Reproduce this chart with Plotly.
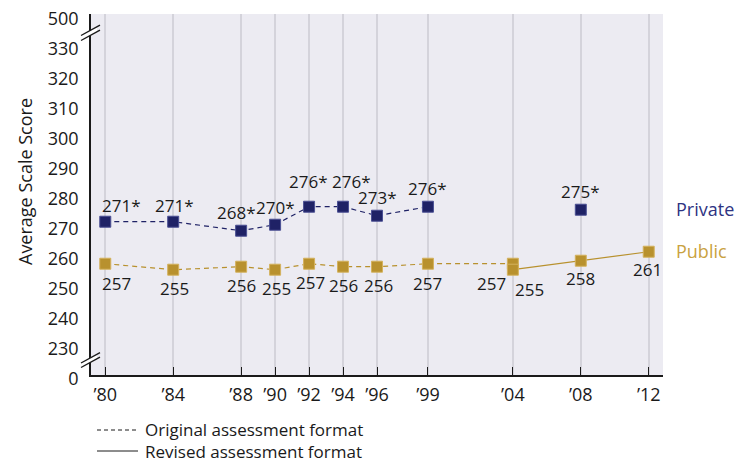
import plotly.graph_objects as go

# ---------------- data ----------------
years = [1980, 1984, 1988, 1990, 1992, 1994, 1996, 1999, 2004, 2008, 2012]
year_labels = ["\u201980", "\u201984", "\u201988", "\u201990", "\u201992", "\u201994",
               "\u201996", "\u201999", "\u201904", "\u201908", "\u201912"]

private_orig_years = [1980, 1984, 1988, 1990, 1992, 1994, 1996, 1999]
private_orig = [271, 271, 268, 270, 276, 276, 273, 276]
private_rev_years = [2008]
private_rev = [275]

public_orig_years = [1980, 1984, 1988, 1990, 1992, 1994, 1996, 1999, 2004]
public_orig = [257, 255, 256, 255, 257, 256, 256, 257, 257]
public_rev_years = [2004, 2008, 2012]
public_rev = [255, 258, 261]

# significance flags for private labels
private_orig_sig = [True] * 8
private_rev_sig = [True]

ytick_vals = [220, 230, 240, 250, 260, 270, 280, 290, 300, 310, 320, 330, 340]
ytick_text = ["0", "230", "240", "250", "260", "270", "280", "290", "300", "310", "320", "330", "500"]

legend_lines = ["Original assessment format", "Revised assessment format"]

# ---------------- styling ----------------
NAVY = "#1f2266"
NAVY_EDGE = "#4b5094"
GOLD = "#b8912e"
GOLD_EDGE = "#d4b25e"
BG = "#ecebf2"
GRID = "#d4d3db"
FONT = "Open Sans"
INK = "#1a1a1a"

# page offset (body margin) compensation
OFF = 8
W, H = 745, 461
# target plot area in screen pixels
SX0, SX1, SY0, SY1 = 91, 663, 14, 375
L, T = SX0 - OFF, SY0 - OFF
R = W - (SX1 - OFF)
B = H - (SY1 - OFF)
PW, PH = SX1 - SX0, SY1 - SY0

def px(x):
    return (x - SX0) / PW

def py(y):
    return (SY1 - y) / PH

fig = go.Figure()

def series(xs, ys, color, edge, dash, show_line=True):
    fig.add_trace(go.Scatter(
        x=xs, y=ys,
        mode="lines+markers" if show_line else "markers",
        line=dict(color=color, width=1.2, dash=dash),
        marker=dict(symbol="square", size=11, color=color, line=dict(color=edge, width=1)),
        hoverinfo="skip", showlegend=False,
    ))

series(public_orig_years, public_orig, GOLD, GOLD_EDGE, "5px,4px")
series(public_rev_years, public_rev, GOLD, GOLD_EDGE, "solid")
series(private_orig_years, private_orig, NAVY, NAVY_EDGE, "5px,4px")
series(private_rev_years, private_rev, NAVY, NAVY_EDGE, None, show_line=False)

annotations = []

# label offsets (pixels) for value labels
priv_orig_off = [(16, 16), (1, 16), (-5, 18), (0, 17), (-1, 25), (8, 25), (0, 18), (0, 18)]
priv_rev_off = [(0, 18)]
pub_orig_off = [(11, -20), (1, -19), (0, -19), (1, -19), (1, -19), (0, -19), (1, -19), (0, -20), (-21, -20)]
pub_rev_off = [(17, -20), (0, -18), (-1, -18)]

def add_labels(xs, ys, offs, star=None):
    for i, (xv, yv) in enumerate(zip(xs, ys)):
        txt = str(yv) + ("*" if star and star[i] else "")
        annotations.append(dict(
            x=xv, y=yv, xref="x", yref="y", text=txt, showarrow=False,
            xanchor="center", yanchor="middle",
            xshift=offs[i][0], yshift=offs[i][1],
            font=dict(family=FONT, size=17, color=INK),
        ))

add_labels(private_orig_years, private_orig, priv_orig_off, private_orig_sig)
add_labels(private_rev_years, private_rev, priv_rev_off, private_rev_sig)
add_labels(public_orig_years, public_orig, pub_orig_off)
add_labels(public_rev_years, public_rev, pub_rev_off)

# series names on the right
annotations.append(dict(x=px(674), y=py(209), xref="paper", yref="paper", text="Private",
                        showarrow=False, xanchor="left", yanchor="middle",
                        font=dict(family=FONT, size=18, color="#2e3382")))
annotations.append(dict(x=px(674), y=py(251), xref="paper", yref="paper", text="Public",
                        showarrow=False, xanchor="left", yanchor="middle",
                        font=dict(family=FONT, size=18, color="#c9a241")))

# y-axis title
annotations.append(dict(x=px(25), y=py(182), xref="paper", yref="paper",
                        text="Average Scale Score", textangle=-90, showarrow=False,
                        xanchor="center", yanchor="middle",
                        font=dict(family=FONT, size=18, color=INK)))

# legend text (two lines in one block)
annotations.append(dict(x=px(143), y=py(440), xref="paper", yref="paper",
                        text="<br>".join(legend_lines), showarrow=False,
                        xanchor="left", yanchor="middle", align="left",
                        font=dict(family=FONT, size=17, color=INK)))

shapes = []
# legend line samples
shapes.append(dict(type="line", xref="paper", yref="paper", x0=px(97), x1=px(138),
                   y0=py(430), y1=py(430), line=dict(color=INK, width=1, dash="4px,3px")))
shapes.append(dict(type="line", xref="paper", yref="paper", x0=px(97), x1=px(138),
                   y0=py(451), y1=py(451), line=dict(color=INK, width=1)))

# axis break marks
def brk(ya, yb):
    # ya, yb: screen y pixel where the two strokes cross the axis (x=91)
    s = 0.55
    def pt(x, y0):
        return px(x), py(y0 - s * (x - SX0))
    a0, a1 = pt(81, ya), pt(100, ya)
    b0, b1 = pt(81, yb), pt(100, yb)
    c0, c1 = pt(85, ya), pt(97, ya)
    d0, d1 = pt(85, yb), pt(97, yb)
    path = f"M {c0[0]},{c0[1]} L {c1[0]},{c1[1]} L {d1[0]},{d1[1]} L {d0[0]},{d0[1]} Z"
    shapes.append(dict(type="path", xref="paper", yref="paper", path=path,
                       fillcolor="white", line=dict(width=0), layer="above"))
    for p0, p1 in ((a0, a1), (b0, b1)):
        shapes.append(dict(type="line", xref="paper", yref="paper",
                           x0=p0[0], y0=p0[1], x1=p1[0], y1=p1[1],
                           line=dict(color=INK, width=1.4), layer="above"))

brk(30.0, 35.0)
brk(357.5, 362.0)

fig.update_layout(
    width=W, height=H,
    margin=dict(l=L, r=R, t=T, b=B, pad=0, autoexpand=False),
    paper_bgcolor="white", plot_bgcolor=BG,
    font=dict(family=FONT, size=18, color=INK),
    annotations=annotations, shapes=shapes,
    xaxis=dict(
        range=[1979.16, 2012.84], tickmode="array", tickvals=years, ticktext=year_labels,
        showgrid=True, gridcolor=GRID, gridwidth=1.5,
        ticks="inside", ticklen=8, tickcolor=INK, tickwidth=1.2,
        showline=True, linecolor=INK, linewidth=1.5,
        zeroline=False, tickfont=dict(family=FONT, size=18),
        automargin=False, fixedrange=True, ticklabelstandoff=3,
    ),
    yaxis=dict(
        range=[219.9, 340.25], tickmode="array", tickvals=ytick_vals, ticktext=ytick_text,
        showgrid=False, zeroline=False,
        ticks="outside", ticklen=7, tickcolor="rgba(0,0,0,0)",
        showline=True, linecolor=INK, linewidth=1.5,
        tickfont=dict(family=FONT, size=18), automargin=False, fixedrange=True,
        ticklabeloverflow="allow", ticklabelshift=4,
    ),
)

fig.write_html("out.html")
